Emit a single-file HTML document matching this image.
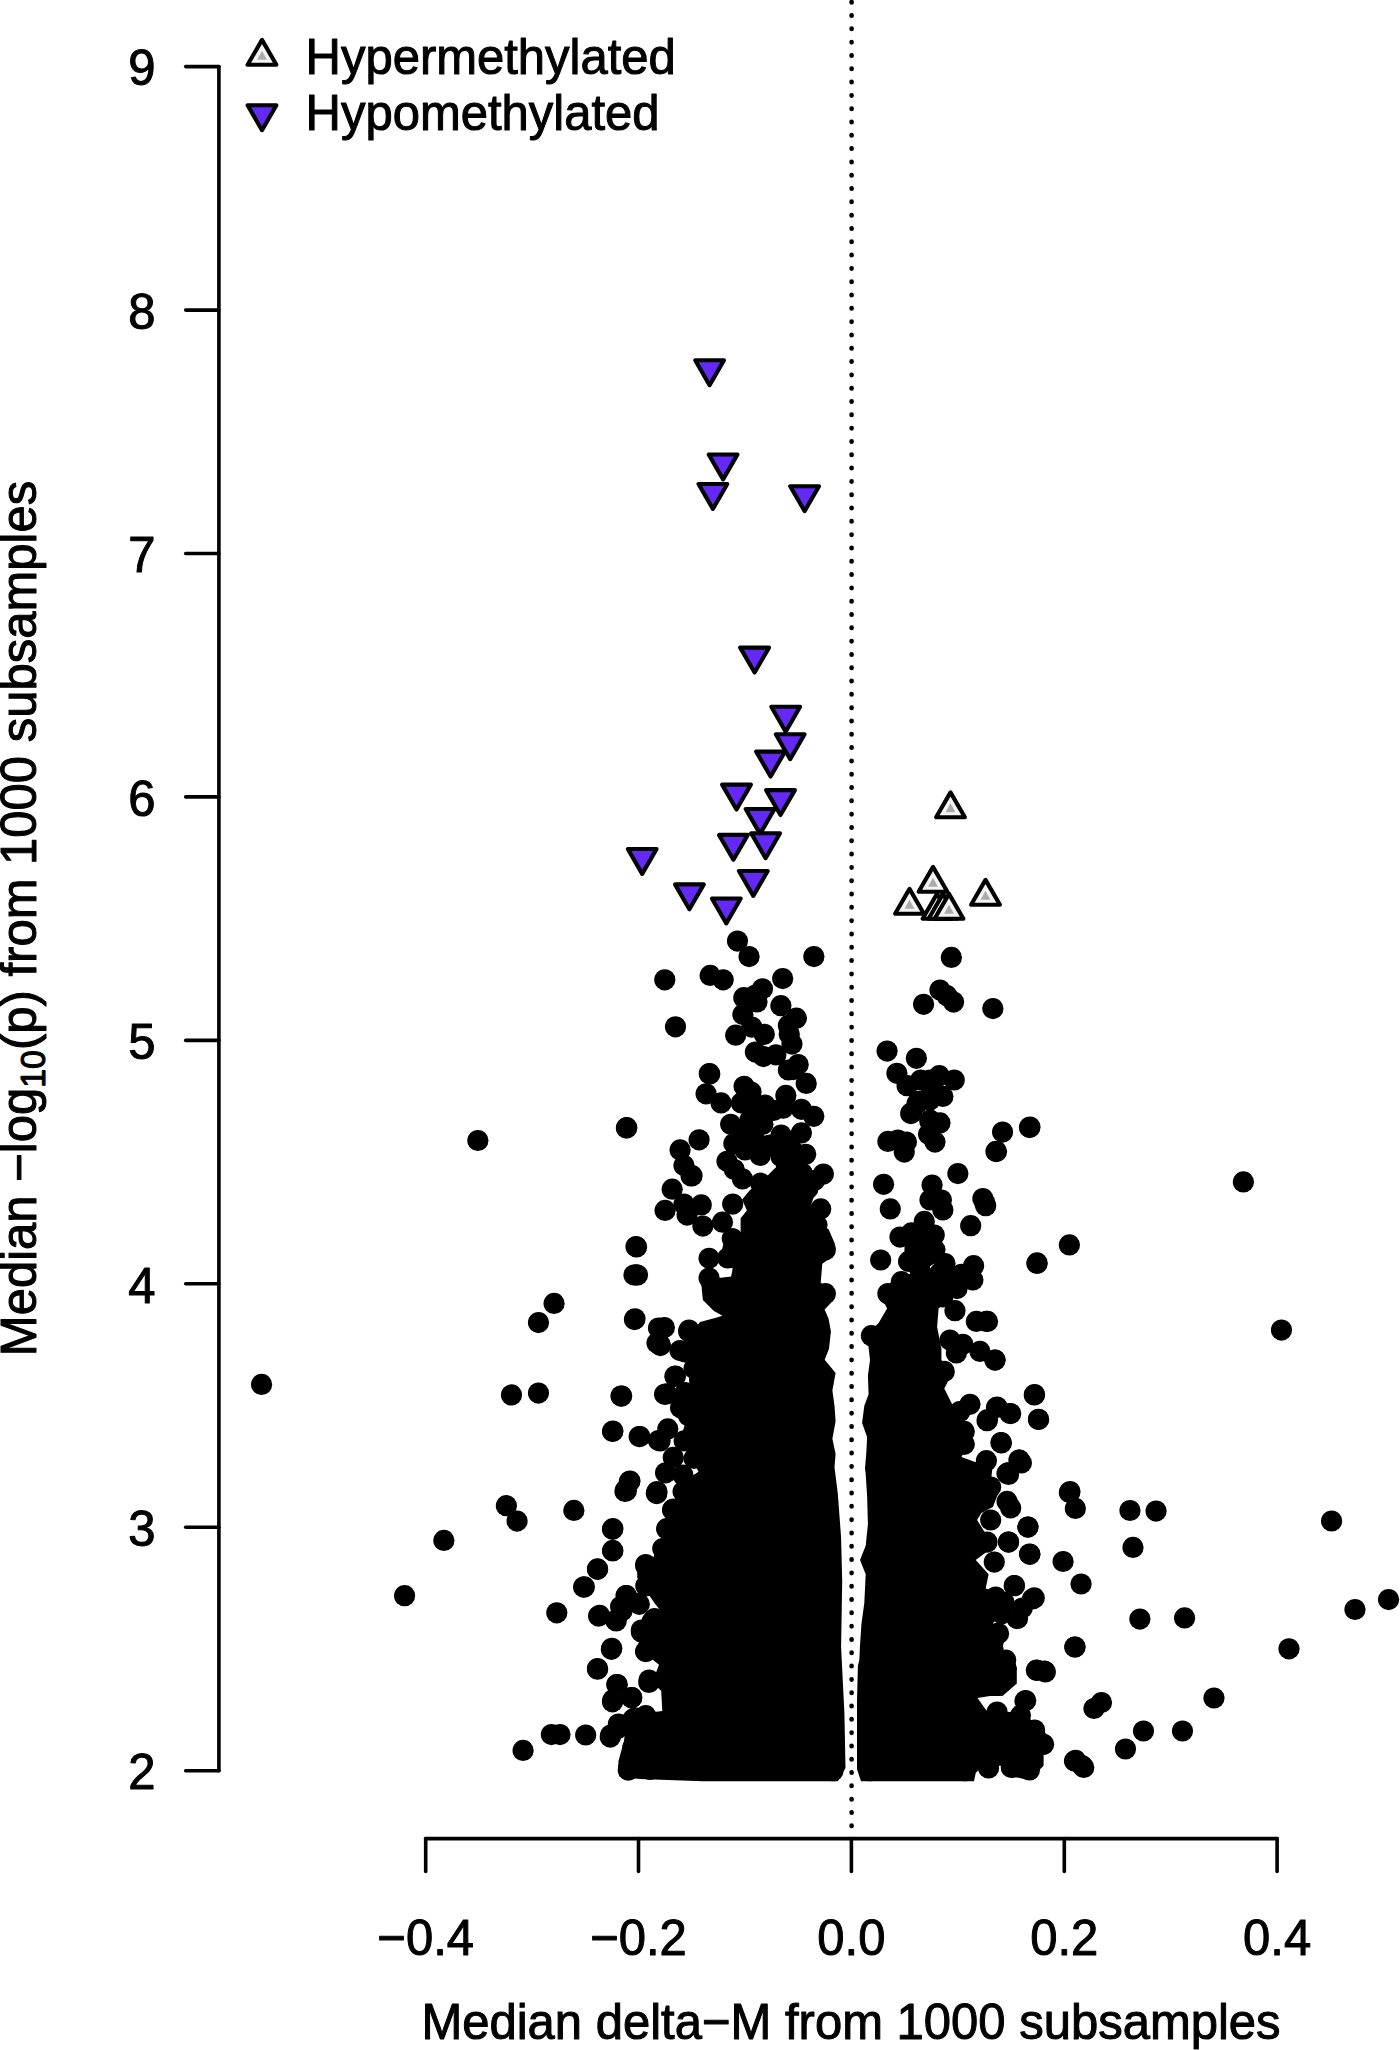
<!DOCTYPE html><html><head><meta charset="utf-8"><style>html,body{margin:0;padding:0;background:#fff;}svg{display:block}</style></head><body>
<svg width="1400" height="2050" viewBox="0 0 1400 2050">
<rect width="1400" height="2050" fill="#fff"/>
<line x1="851.6" y1="2.0" x2="851.6" y2="1826" stroke="#000" stroke-width="4.6" stroke-linecap="round" stroke-dasharray="0.4 12.911"/>
<g stroke="#000" stroke-width="3.6" stroke-linecap="round" fill="none">
<line x1="218.9" y1="66.6" x2="218.9" y2="1770.7"/>
<line x1="185.7" y1="1770.7" x2="218.9" y2="1770.7"/>
<line x1="185.7" y1="1527.3" x2="218.9" y2="1527.3"/>
<line x1="185.7" y1="1283.8" x2="218.9" y2="1283.8"/>
<line x1="185.7" y1="1040.4" x2="218.9" y2="1040.4"/>
<line x1="185.7" y1="796.9" x2="218.9" y2="796.9"/>
<line x1="185.7" y1="553.5" x2="218.9" y2="553.5"/>
<line x1="185.7" y1="310.1" x2="218.9" y2="310.1"/>
<line x1="185.7" y1="66.6" x2="218.9" y2="66.6"/>
<line x1="425.7" y1="1838.6" x2="1277.1" y2="1838.6"/>
<line x1="425.7" y1="1838.6" x2="425.7" y2="1871.4"/>
<line x1="638.5" y1="1838.6" x2="638.5" y2="1871.4"/>
<line x1="851.4" y1="1838.6" x2="851.4" y2="1871.4"/>
<line x1="1064.3" y1="1838.6" x2="1064.3" y2="1871.4"/>
<line x1="1277.1" y1="1838.6" x2="1277.1" y2="1871.4"/>
</g>
<g font-family="Liberation Sans, sans-serif" font-size="49" fill="#000" stroke="#000" stroke-width="1.0" stroke-linejoin="round">
<text transform="translate(155.5,1789.4) scale(1,1.035)" text-anchor="end">2</text>
<text transform="translate(155.5,1546.0) scale(1,1.035)" text-anchor="end">3</text>
<text transform="translate(155.5,1302.5) scale(1,1.035)" text-anchor="end">4</text>
<text transform="translate(155.5,1059.1) scale(1,1.035)" text-anchor="end">5</text>
<text transform="translate(155.5,815.6) scale(1,1.035)" text-anchor="end">6</text>
<text transform="translate(155.5,572.2) scale(1,1.035)" text-anchor="end">7</text>
<text transform="translate(155.5,328.8) scale(1,1.035)" text-anchor="end">8</text>
<text transform="translate(155.5,85.3) scale(1,1.035)" text-anchor="end">9</text>
<text transform="translate(425.7,1954.5) scale(1,1.035)" text-anchor="middle">−0.4</text>
<text transform="translate(638.5,1954.5) scale(1,1.035)" text-anchor="middle">−0.2</text>
<text transform="translate(851.4,1954.5) scale(1,1.035)" text-anchor="middle">0.0</text>
<text transform="translate(1064.3,1954.5) scale(1,1.035)" text-anchor="middle">0.2</text>
<text transform="translate(1277.1,1954.5) scale(1,1.035)" text-anchor="middle">0.4</text>
<text transform="translate(851.0,2039.4) scale(1,1.035)" text-anchor="middle">Median delta−M from 1000 subsamples</text>
<text transform="translate(35.7,918.5) rotate(-90) scale(1,1.035)" text-anchor="middle">Median −log<tspan font-size="34" dy="9">10</tspan><tspan dy="-9">(p) from 1000 subsamples</tspan></text>
<text transform="translate(305.5,73.8) scale(1,1.035)" text-anchor="start">Hypermethylated</text>
<text transform="translate(305.5,129.8) scale(1,1.035)" text-anchor="start">Hypomethylated</text>
</g>
<g fill="#000">
<path d="M817.6,1186.9 L811.3,1204.1 L806.6,1216.7 L828.6,1229.3 L834.8,1243.4 L833.3,1256 L822.3,1263.8 L820.7,1282.7 L834,1292.1 L830.9,1303.1 L824.6,1309.4 L828.6,1318.8 L830.9,1331.4 L829,1348.8 L824.7,1359.7 L835.6,1372.9 L832.4,1390.5 L834.5,1405.8 L835.6,1421.2 L832.4,1438.7 L835.6,1454.1 L834.5,1467.3 L837.8,1493.6 L841.1,1537.5 L842.2,1581.4 L841.1,1647.2 L844.4,1713 L845.5,1767.9 L838,1781.3 L702.9,1781.3 L640,1779 L619.5,1776.7 L618.4,1761.3 L623.9,1741.6 L627.2,1717.4 L645.8,1713 L662.3,1710.9 L661.2,1691.1 L652.4,1682.3 L659,1664.8 L648,1656 L637,1647.2 L645.8,1625.3 L663.4,1614.3 L654.6,1603.3 L637,1577 L652.4,1559.4 L661.2,1537.5 L672.2,1517.7 L676.6,1493.6 L685.3,1480.4 L698.5,1471.7 L689.7,1454.1 L681,1436.6 L685.3,1423.4 L700,1410 L690,1395 L697,1380 L690,1365 L685,1350 L690,1335 L700,1322 L715,1318 L722.5,1315.7 L713.9,1311 L702.9,1300 L701.3,1284.3 L704.4,1271.7 L718.6,1278 L731.1,1276.4 L732.7,1268.6 L723.3,1263.8 L721.7,1251.3 L724.9,1237.1 L734.3,1230.8 L740.6,1232.4 L740.6,1218.3 L746.9,1210.4 L742.1,1199.4 L750,1190 L765.7,1177.4 L775.1,1168 L797.1,1164.9 L809.7,1168 Z"/>
<path d="M900,1274 L930,1274 L938.6,1280 L957,1288.6 L950,1298.6 L938.6,1308.6 L937.1,1327.1 L941.4,1348.6 L941.4,1360 L952.9,1371.4 L944.3,1388.6 L952.9,1405.7 L961.4,1421.4 L972.9,1437.1 L961.4,1457.1 L975,1462 L992.9,1464.3 L991.4,1477 L1000,1488.6 L992.9,1507 L981.4,1512.9 L977.1,1520 L984.3,1531.4 L995.7,1540 L987.1,1551.4 L975.7,1560 L988.6,1574.3 L985.7,1588.6 L1002.9,1594.3 L998.6,1610 L992.9,1624.3 L1007.1,1631.4 L1002.9,1645.7 L1004.3,1660 L1016.8,1667.5 L1016.8,1683.6 L1002.5,1696 L990,1696 L977.5,1697.9 L986.4,1710.4 L1009.6,1712.1 L1020,1712 L1034,1722 L1043.6,1730 L1052.5,1744.3 L1043.6,1755 L1043.6,1765.7 L1029.3,1780 L1011.4,1776.4 L1000.7,1765.7 L982.9,1765.7 L975.7,1772.9 L974,1781.3 L861,1781.3 L857,1769.3 L857,1737.1 L857,1701.4 L857.9,1665.7 L859.3,1660 L860,1645.7 L861.4,1624.3 L864.3,1602.9 L865.7,1574.3 L860,1560 L865.7,1545.7 L867.9,1524.3 L867.1,1495.7 L865.7,1474.3 L865,1468.6 L866.4,1451.4 L867.1,1437.1 L862.1,1422.9 L864.3,1405.7 L868.6,1394.3 L867.9,1375.7 L870,1360 L867.1,1334.3 L878.6,1322.9 L887.1,1308.6 L880,1294.3 L892.9,1280 Z"/>
<circle cx="737.5" cy="941.1" r="10.6"/>
<circle cx="749.1" cy="956.6" r="10.6"/>
<circle cx="813.9" cy="956.6" r="10.6"/>
<circle cx="664.8" cy="979.8" r="10.6"/>
<circle cx="710.2" cy="975.4" r="10.6"/>
<circle cx="723.2" cy="979.8" r="10.6"/>
<circle cx="782.7" cy="978.6" r="10.6"/>
<circle cx="762.5" cy="988.8" r="10.6"/>
<circle cx="743.8" cy="997.7" r="10.6"/>
<circle cx="755.4" cy="995" r="10.6"/>
<circle cx="757" cy="1002" r="10.6"/>
<circle cx="780.9" cy="1005.7" r="10.6"/>
<circle cx="742.9" cy="1014.6" r="10.6"/>
<circle cx="796.4" cy="1018.2" r="10.6"/>
<circle cx="675.5" cy="1026.8" r="10.6"/>
<circle cx="788.4" cy="1025.4" r="10.6"/>
<circle cx="764.3" cy="1034.3" r="10.6"/>
<circle cx="735.7" cy="1035.2" r="10.6"/>
<circle cx="789.3" cy="1034.3" r="10.6"/>
<circle cx="792" cy="1044.1" r="10.6"/>
<circle cx="755.4" cy="1052.1" r="10.6"/>
<circle cx="763.4" cy="1056.6" r="10.6"/>
<circle cx="775.9" cy="1054.8" r="10.6"/>
<circle cx="751.8" cy="1027.1" r="10.6"/>
<circle cx="798.2" cy="1064.6" r="10.6"/>
<circle cx="788.4" cy="1070" r="10.6"/>
<circle cx="806.25" cy="1083.4" r="10.6"/>
<circle cx="709.3" cy="1073.6" r="10.6"/>
<circle cx="709.8" cy="1073.9" r="10.6"/>
<circle cx="706.1" cy="1093.8" r="10.6"/>
<circle cx="721.1" cy="1102.9" r="10.6"/>
<circle cx="744.1" cy="1086.3" r="10.6"/>
<circle cx="751.1" cy="1092.1" r="10.6"/>
<circle cx="741.4" cy="1102.9" r="10.6"/>
<circle cx="756.4" cy="1105" r="10.6"/>
<circle cx="765" cy="1105" r="10.6"/>
<circle cx="773.6" cy="1110.4" r="10.6"/>
<circle cx="785.9" cy="1095.4" r="10.6"/>
<circle cx="783.2" cy="1108.2" r="10.6"/>
<circle cx="801.4" cy="1109.3" r="10.6"/>
<circle cx="813.8" cy="1116.3" r="10.6"/>
<circle cx="793.4" cy="1069.6" r="10.6"/>
<circle cx="730.7" cy="1124.3" r="10.6"/>
<circle cx="750" cy="1120" r="10.6"/>
<circle cx="762.9" cy="1124.3" r="10.6"/>
<circle cx="733.9" cy="1143.6" r="10.6"/>
<circle cx="745" cy="1135" r="10.6"/>
<circle cx="755" cy="1140" r="10.6"/>
<circle cx="745" cy="1150" r="10.6"/>
<circle cx="727" cy="1161.3" r="10.6"/>
<circle cx="742.5" cy="1178.9" r="10.6"/>
<circle cx="760.2" cy="1155.4" r="10.6"/>
<circle cx="781.1" cy="1135" r="10.6"/>
<circle cx="801.4" cy="1132.9" r="10.6"/>
<circle cx="805.7" cy="1154.3" r="10.6"/>
<circle cx="789.6" cy="1145.7" r="10.6"/>
<circle cx="823.4" cy="1174.1" r="10.6"/>
<circle cx="699.1" cy="1139.8" r="10.6"/>
<circle cx="692.1" cy="1175.7" r="10.6"/>
<circle cx="760.7" cy="1183.2" r="10.6"/>
<circle cx="786.4" cy="1167.1" r="10.6"/>
<circle cx="802.5" cy="1173.6" r="10.6"/>
<circle cx="807.9" cy="1188.6" r="10.6"/>
<circle cx="770" cy="1145" r="10.6"/>
<circle cx="680.1" cy="1149.9" r="10.6"/>
<circle cx="684" cy="1165.6" r="10.6"/>
<circle cx="691.1" cy="1175.9" r="10.6"/>
<circle cx="672.2" cy="1189.2" r="10.6"/>
<circle cx="665.1" cy="1210.4" r="10.6"/>
<circle cx="684" cy="1204.1" r="10.6"/>
<circle cx="687.1" cy="1215.1" r="10.6"/>
<circle cx="701.3" cy="1204.9" r="10.6"/>
<circle cx="702.9" cy="1226.1" r="10.6"/>
<circle cx="722.5" cy="1222.2" r="10.6"/>
<circle cx="732.7" cy="1204.1" r="10.6"/>
<circle cx="820.7" cy="1208.9" r="10.6"/>
<circle cx="825.4" cy="1249.7" r="10.6"/>
<circle cx="825.4" cy="1293.7" r="10.6"/>
<circle cx="709.1" cy="1258.3" r="10.6"/>
<circle cx="709.1" cy="1278" r="10.6"/>
<circle cx="664.4" cy="1327.5" r="10.6"/>
<circle cx="660.4" cy="1345.6" r="10.6"/>
<circle cx="688.7" cy="1331.4" r="10.6"/>
<circle cx="687.1" cy="1351.8" r="10.6"/>
<circle cx="636" cy="1246.6" r="10.6"/>
<circle cx="636" cy="1274.8" r="10.6"/>
<circle cx="635" cy="1318.8" r="10.6"/>
<circle cx="626.8" cy="1127.7" r="10.6"/>
<circle cx="660.1" cy="1344.4" r="10.6"/>
<circle cx="685.3" cy="1352" r="10.6"/>
<circle cx="621.7" cy="1396" r="10.6"/>
<circle cx="675.5" cy="1376.2" r="10.6"/>
<circle cx="666.7" cy="1393.8" r="10.6"/>
<circle cx="685.3" cy="1392.7" r="10.6"/>
<circle cx="706.2" cy="1386.1" r="10.6"/>
<circle cx="612.9" cy="1431.1" r="10.6"/>
<circle cx="639.2" cy="1436.6" r="10.6"/>
<circle cx="667.8" cy="1428.9" r="10.6"/>
<circle cx="660.1" cy="1440.9" r="10.6"/>
<circle cx="684.2" cy="1440.9" r="10.6"/>
<circle cx="673.3" cy="1457.4" r="10.6"/>
<circle cx="694.1" cy="1458.5" r="10.6"/>
<circle cx="665.6" cy="1472.8" r="10.6"/>
<circle cx="629.4" cy="1481.5" r="10.6"/>
<circle cx="625" cy="1491.4" r="10.6"/>
<circle cx="656.8" cy="1493.6" r="10.6"/>
<circle cx="683.1" cy="1491.4" r="10.6"/>
<circle cx="673.3" cy="1509" r="10.6"/>
<circle cx="666.7" cy="1528.7" r="10.6"/>
<circle cx="612.9" cy="1528.7" r="10.6"/>
<circle cx="612.9" cy="1550.7" r="10.6"/>
<circle cx="597.6" cy="1569.3" r="10.6"/>
<circle cx="664.5" cy="1549.6" r="10.6"/>
<circle cx="645.8" cy="1566" r="10.6"/>
<circle cx="584.4" cy="1586.9" r="10.6"/>
<circle cx="626.1" cy="1595.6" r="10.6"/>
<circle cx="645.8" cy="1585.8" r="10.6"/>
<circle cx="620.6" cy="1606.6" r="10.6"/>
<circle cx="599.7" cy="1615.4" r="10.6"/>
<circle cx="616.2" cy="1620.9" r="10.6"/>
<circle cx="638.2" cy="1603.3" r="10.6"/>
<circle cx="654.6" cy="1618.7" r="10.6"/>
<circle cx="641.4" cy="1631.9" r="10.6"/>
<circle cx="611.8" cy="1648.3" r="10.6"/>
<circle cx="645.8" cy="1651.6" r="10.6"/>
<circle cx="597.6" cy="1669.2" r="10.6"/>
<circle cx="649.1" cy="1680.1" r="10.6"/>
<circle cx="617.3" cy="1684.5" r="10.6"/>
<circle cx="631.6" cy="1697.7" r="10.6"/>
<circle cx="612.9" cy="1699.9" r="10.6"/>
<circle cx="610.7" cy="1735" r="10.6"/>
<circle cx="618.4" cy="1724" r="10.6"/>
<circle cx="632.7" cy="1719.6" r="10.6"/>
<circle cx="645.8" cy="1717.4" r="10.6"/>
<circle cx="628.3" cy="1770.1" r="10.6"/>
<circle cx="781" cy="1156.4" r="10.6"/>
<circle cx="792.9" cy="1151" r="10.6"/>
<circle cx="797" cy="1166" r="10.6"/>
<circle cx="951.4" cy="957.4" r="10.6"/>
<circle cx="940" cy="990" r="10.6"/>
<circle cx="947" cy="995.7" r="10.6"/>
<circle cx="953.6" cy="1002.1" r="10.6"/>
<circle cx="923.6" cy="1004.3" r="10.6"/>
<circle cx="992.9" cy="1008.6" r="10.6"/>
<circle cx="887.1" cy="1051.1" r="10.6"/>
<circle cx="916.4" cy="1058.3" r="10.6"/>
<circle cx="896.9" cy="1073.3" r="10.6"/>
<circle cx="907.1" cy="1085.7" r="10.6"/>
<circle cx="920.7" cy="1080" r="10.6"/>
<circle cx="939.3" cy="1075.7" r="10.6"/>
<circle cx="954.3" cy="1080" r="10.6"/>
<circle cx="931.4" cy="1091.4" r="10.6"/>
<circle cx="942.9" cy="1096.4" r="10.6"/>
<circle cx="917.1" cy="1103.6" r="10.6"/>
<circle cx="910.7" cy="1113.6" r="10.6"/>
<circle cx="930" cy="1121.4" r="10.6"/>
<circle cx="940" cy="1122.9" r="10.6"/>
<circle cx="1030" cy="1127.1" r="10.6"/>
<circle cx="930" cy="1080" r="10.6"/>
<circle cx="930" cy="1100" r="10.6"/>
<circle cx="911.4" cy="1112.9" r="10.6"/>
<circle cx="918.6" cy="1101.4" r="10.6"/>
<circle cx="930" cy="1120" r="10.6"/>
<circle cx="928.6" cy="1134.3" r="10.6"/>
<circle cx="935" cy="1142.1" r="10.6"/>
<circle cx="887.9" cy="1141.4" r="10.6"/>
<circle cx="897.9" cy="1140" r="10.6"/>
<circle cx="906.4" cy="1142.1" r="10.6"/>
<circle cx="904.3" cy="1152.1" r="10.6"/>
<circle cx="1002.6" cy="1132.1" r="10.6"/>
<circle cx="996" cy="1151.4" r="10.6"/>
<circle cx="957.9" cy="1173.6" r="10.6"/>
<circle cx="883.6" cy="1184.3" r="10.6"/>
<circle cx="932.1" cy="1185" r="10.6"/>
<circle cx="890.3" cy="1208.9" r="10.6"/>
<circle cx="930" cy="1200" r="10.6"/>
<circle cx="941.4" cy="1200" r="10.6"/>
<circle cx="942.9" cy="1210" r="10.6"/>
<circle cx="982.9" cy="1198.6" r="10.6"/>
<circle cx="985.7" cy="1205.7" r="10.6"/>
<circle cx="970.7" cy="1225.7" r="10.6"/>
<circle cx="924.3" cy="1221.4" r="10.6"/>
<circle cx="934.3" cy="1235" r="10.6"/>
<circle cx="900" cy="1237.1" r="10.6"/>
<circle cx="911.4" cy="1232.9" r="10.6"/>
<circle cx="880.7" cy="1260" r="10.6"/>
<circle cx="908.6" cy="1261.4" r="10.6"/>
<circle cx="927.1" cy="1255.7" r="10.6"/>
<circle cx="945" cy="1263.6" r="10.6"/>
<circle cx="940" cy="1272.9" r="10.6"/>
<circle cx="973.6" cy="1265.7" r="10.6"/>
<circle cx="961.4" cy="1274.3" r="10.6"/>
<circle cx="972.9" cy="1280" r="10.6"/>
<circle cx="1037.1" cy="1262.9" r="10.6"/>
<circle cx="902.1" cy="1282.9" r="10.6"/>
<circle cx="888.6" cy="1294.3" r="10.6"/>
<circle cx="921.4" cy="1285.7" r="10.6"/>
<circle cx="957.1" cy="1288.6" r="10.6"/>
<circle cx="928.6" cy="1297" r="10.6"/>
<circle cx="942.9" cy="1297" r="10.6"/>
<circle cx="915" cy="1250" r="10.6"/>
<circle cx="920" cy="1270" r="10.6"/>
<circle cx="935" cy="1250" r="10.6"/>
<circle cx="950" cy="1280" r="10.6"/>
<circle cx="901.4" cy="1281.7" r="10.6"/>
<circle cx="915" cy="1245" r="10.6"/>
<circle cx="887.9" cy="1293.6" r="10.6"/>
<circle cx="955" cy="1310.7" r="10.6"/>
<circle cx="976.4" cy="1321.4" r="10.6"/>
<circle cx="986.4" cy="1321.4" r="10.6"/>
<circle cx="950" cy="1340" r="10.6"/>
<circle cx="962.9" cy="1344.3" r="10.6"/>
<circle cx="956.4" cy="1352.9" r="10.6"/>
<circle cx="980" cy="1351.4" r="10.6"/>
<circle cx="995" cy="1360" r="10.6"/>
<circle cx="944.3" cy="1371.4" r="10.6"/>
<circle cx="970" cy="1404.3" r="10.6"/>
<circle cx="997.1" cy="1407.1" r="10.6"/>
<circle cx="1010.7" cy="1413.6" r="10.6"/>
<circle cx="987.1" cy="1420.7" r="10.6"/>
<circle cx="1034.3" cy="1395" r="10.6"/>
<circle cx="1038.6" cy="1419.3" r="10.6"/>
<circle cx="964.3" cy="1431.4" r="10.6"/>
<circle cx="964.3" cy="1444.3" r="10.6"/>
<circle cx="1001.4" cy="1442.9" r="10.6"/>
<circle cx="986.4" cy="1460.7" r="10.6"/>
<circle cx="1019.3" cy="1460" r="10.6"/>
<circle cx="1008.6" cy="1472.9" r="10.6"/>
<circle cx="975.7" cy="1472.9" r="10.6"/>
<circle cx="871.4" cy="1335.7" r="10.6"/>
<circle cx="1021.4" cy="1462.9" r="10.6"/>
<circle cx="1007.9" cy="1472.9" r="10.6"/>
<circle cx="990.7" cy="1487.1" r="10.6"/>
<circle cx="1007.1" cy="1501.4" r="10.6"/>
<circle cx="1010.7" cy="1507.9" r="10.6"/>
<circle cx="990.7" cy="1520" r="10.6"/>
<circle cx="1027.9" cy="1527.1" r="10.6"/>
<circle cx="987.1" cy="1542.1" r="10.6"/>
<circle cx="1008.6" cy="1542.1" r="10.6"/>
<circle cx="1030" cy="1554.3" r="10.6"/>
<circle cx="994.3" cy="1562.1" r="10.6"/>
<circle cx="1014.3" cy="1585.7" r="10.6"/>
<circle cx="1034.3" cy="1597.9" r="10.6"/>
<circle cx="995.7" cy="1597.1" r="10.6"/>
<circle cx="1017.1" cy="1618.6" r="10.6"/>
<circle cx="998.6" cy="1633.6" r="10.6"/>
<circle cx="992.9" cy="1648.6" r="10.6"/>
<circle cx="1005.7" cy="1660" r="10.6"/>
<circle cx="1074.8" cy="1647" r="10.6"/>
<circle cx="1036.4" cy="1670.2" r="10.6"/>
<circle cx="1045.4" cy="1672" r="10.6"/>
<circle cx="1025.7" cy="1700.5" r="10.6"/>
<circle cx="997.1" cy="1712.1" r="10.6"/>
<circle cx="1020.4" cy="1715.7" r="10.6"/>
<circle cx="1034.6" cy="1730" r="10.6"/>
<circle cx="1043.6" cy="1744.3" r="10.6"/>
<circle cx="1031.1" cy="1762.1" r="10.6"/>
<circle cx="1011.4" cy="1767.5" r="10.6"/>
<circle cx="1075.7" cy="1760.4" r="10.6"/>
<circle cx="1083.75" cy="1767.5" r="10.6"/>
<circle cx="995.4" cy="1683.6" r="10.6"/>
<circle cx="1006.1" cy="1667.5" r="10.6"/>
<circle cx="995.4" cy="1635.4" r="10.6"/>
<circle cx="1029.5" cy="1127.6" r="10.6"/>
<circle cx="996.5" cy="1151.6" r="10.6"/>
<circle cx="1243.4" cy="1181.9" r="10.6"/>
<circle cx="984.5" cy="1202" r="10.6"/>
<circle cx="1069.4" cy="1244.9" r="10.6"/>
<circle cx="1037" cy="1263.5" r="10.6"/>
<circle cx="1281.5" cy="1330.1" r="10.6"/>
<circle cx="987.5" cy="1321.4" r="10.6"/>
<circle cx="995" cy="1360.1" r="10.6"/>
<circle cx="1034.6" cy="1394.6" r="10.6"/>
<circle cx="1038.5" cy="1419.5" r="10.6"/>
<circle cx="1010" cy="1413.5" r="10.6"/>
<circle cx="996.5" cy="1407.5" r="10.6"/>
<circle cx="987.5" cy="1419.5" r="10.6"/>
<circle cx="1001" cy="1442.6" r="10.6"/>
<circle cx="1019" cy="1460" r="10.6"/>
<circle cx="1007" cy="1473.5" r="10.6"/>
<circle cx="1070" cy="1491.5" r="10.6"/>
<circle cx="1008.5" cy="1474.5" r="10.6"/>
<circle cx="1069.4" cy="1492.5" r="10.6"/>
<circle cx="1075.4" cy="1508.4" r="10.6"/>
<circle cx="1130" cy="1510.5" r="10.6"/>
<circle cx="1156.1" cy="1511.1" r="10.6"/>
<circle cx="1331.6" cy="1521" r="10.6"/>
<circle cx="1133" cy="1547.4" r="10.6"/>
<circle cx="1028" cy="1527" r="10.6"/>
<circle cx="1008.5" cy="1542" r="10.6"/>
<circle cx="1029.5" cy="1554" r="10.6"/>
<circle cx="1063.1" cy="1561.5" r="10.6"/>
<circle cx="1081.1" cy="1584" r="10.6"/>
<circle cx="1014.5" cy="1585.5" r="10.6"/>
<circle cx="1032.5" cy="1599" r="10.6"/>
<circle cx="1017.5" cy="1618.5" r="10.6"/>
<circle cx="996.5" cy="1633.5" r="10.6"/>
<circle cx="1139.9" cy="1619.1" r="10.6"/>
<circle cx="1184.6" cy="1617.9" r="10.6"/>
<circle cx="1355" cy="1609.5" r="10.6"/>
<circle cx="1388.6" cy="1599.6" r="10.6"/>
<circle cx="1289" cy="1648.8" r="10.6"/>
<circle cx="1075.1" cy="1647" r="10.6"/>
<circle cx="1037" cy="1670.4" r="10.6"/>
<circle cx="1044.5" cy="1671" r="10.6"/>
<circle cx="1005.5" cy="1669.5" r="10.6"/>
<circle cx="1025" cy="1701" r="10.6"/>
<circle cx="1214" cy="1698" r="10.6"/>
<circle cx="1101.5" cy="1702.5" r="10.6"/>
<circle cx="1094" cy="1708.5" r="10.6"/>
<circle cx="1143.5" cy="1731" r="10.6"/>
<circle cx="1182.5" cy="1731" r="10.6"/>
<circle cx="1034" cy="1731" r="10.6"/>
<circle cx="1043" cy="1744.5" r="10.6"/>
<circle cx="1125.5" cy="1749" r="10.6"/>
<circle cx="1074.5" cy="1761" r="10.6"/>
<circle cx="1082" cy="1765.5" r="10.6"/>
<circle cx="1029.5" cy="1770" r="10.6"/>
<circle cx="1011.5" cy="1767" r="10.6"/>
<circle cx="477.9" cy="1140.5" r="10.6"/>
<circle cx="626.4" cy="1127.9" r="10.6"/>
<circle cx="636.6" cy="1247" r="10.6"/>
<circle cx="634" cy="1275" r="10.6"/>
<circle cx="637.5" cy="1275" r="10.6"/>
<circle cx="554.1" cy="1303.4" r="10.6"/>
<circle cx="538.5" cy="1322.6" r="10.6"/>
<circle cx="634.5" cy="1319.6" r="10.6"/>
<circle cx="658.5" cy="1328" r="10.6"/>
<circle cx="657" cy="1343" r="10.6"/>
<circle cx="261.6" cy="1384.4" r="10.6"/>
<circle cx="511.5" cy="1394.9" r="10.6"/>
<circle cx="538.5" cy="1393.1" r="10.6"/>
<circle cx="621" cy="1396.1" r="10.6"/>
<circle cx="612.6" cy="1431.5" r="10.6"/>
<circle cx="639.9" cy="1436.6" r="10.6"/>
<circle cx="658.5" cy="1440.5" r="10.6"/>
<circle cx="630" cy="1481" r="10.6"/>
<circle cx="625.5" cy="1490" r="10.6"/>
<circle cx="657" cy="1491.5" r="10.6"/>
<circle cx="506.4" cy="1505.7" r="10.6"/>
<circle cx="517.1" cy="1521.1" r="10.6"/>
<circle cx="573.9" cy="1510.4" r="10.6"/>
<circle cx="443.9" cy="1540.4" r="10.6"/>
<circle cx="404.6" cy="1595.7" r="10.6"/>
<circle cx="556.8" cy="1612.8" r="10.6"/>
<circle cx="612.5" cy="1529.3" r="10.6"/>
<circle cx="612.5" cy="1550.7" r="10.6"/>
<circle cx="597.5" cy="1568.9" r="10.6"/>
<circle cx="583.6" cy="1587.1" r="10.6"/>
<circle cx="598.6" cy="1616.1" r="10.6"/>
<circle cx="615.7" cy="1620.3" r="10.6"/>
<circle cx="626.4" cy="1595.7" r="10.6"/>
<circle cx="622.1" cy="1610.7" r="10.6"/>
<circle cx="639.3" cy="1604.3" r="10.6"/>
<circle cx="611.4" cy="1649.3" r="10.6"/>
<circle cx="597.5" cy="1668.6" r="10.6"/>
<circle cx="616.8" cy="1684.6" r="10.6"/>
<circle cx="631.8" cy="1697.5" r="10.6"/>
<circle cx="612.5" cy="1701.8" r="10.6"/>
<circle cx="648.9" cy="1682.5" r="10.6"/>
<circle cx="645.7" cy="1564.6" r="10.6"/>
<circle cx="626.4" cy="1490.7" r="10.6"/>
<circle cx="656.4" cy="1493.3" r="10.6"/>
<circle cx="672.5" cy="1510" r="10.6"/>
<circle cx="667.1" cy="1529.3" r="10.6"/>
<circle cx="662.8" cy="1548.6" r="10.6"/>
<circle cx="647.8" cy="1574.3" r="10.6"/>
<circle cx="652.1" cy="1621.4" r="10.6"/>
<circle cx="641.4" cy="1630" r="10.6"/>
<circle cx="645.7" cy="1651.4" r="10.6"/>
<circle cx="523.1" cy="1750.4" r="10.6"/>
<circle cx="551.4" cy="1734.6" r="10.6"/>
<circle cx="560" cy="1734.6" r="10.6"/>
<circle cx="585.7" cy="1735" r="10.6"/>
<circle cx="610.3" cy="1737.1" r="10.6"/>
<circle cx="617.8" cy="1728.6" r="10.6"/>
<circle cx="635" cy="1717.8" r="10.6"/>
<circle cx="645.7" cy="1715.7" r="10.6"/>
<circle cx="628.6" cy="1768.2" r="10.6"/>
<circle cx="650" cy="1769.3" r="10.6"/>
<circle cx="669.3" cy="1769.3" r="10.6"/>
<circle cx="632.8" cy="1747.8" r="10.6"/>
<circle cx="628.8" cy="1767" r="10.6"/>
<circle cx="650" cy="1765.5" r="10.6"/>
<circle cx="670.6" cy="1764.5" r="10.6"/>
<circle cx="691" cy="1764" r="10.6"/>
<circle cx="833" cy="1770.7" r="10.6"/>
<circle cx="870" cy="1770.7" r="10.6"/>
<circle cx="965" cy="1770.7" r="10.6"/>
<circle cx="694.1" cy="1368.5" r="10.6"/>
<circle cx="699.6" cy="1379.5" r="10.6"/>
<circle cx="923.6" cy="1237.1" r="10.6"/>
<circle cx="734.3" cy="1169.6" r="10.6"/>
<circle cx="814.4" cy="1180.6" r="10.6"/>
<circle cx="959.7" cy="1411.7" r="10.6"/>
<circle cx="815" cy="1215" r="10.6"/>
<circle cx="817" cy="1225" r="10.6"/>
<circle cx="689" cy="1330" r="10.6"/>
<circle cx="680" cy="1350.6" r="10.6"/>
<circle cx="674.9" cy="1376.3" r="10.6"/>
<circle cx="664.6" cy="1394.3" r="10.6"/>
<circle cx="680.6" cy="1407.7" r="10.6"/>
<circle cx="689.7" cy="1402" r="10.6"/>
<circle cx="700" cy="1404.3" r="10.6"/>
<circle cx="688.6" cy="1415.7" r="10.6"/>
<circle cx="682.9" cy="1475.1" r="10.6"/>
<circle cx="732.3" cy="1238.6" r="10.6"/>
<circle cx="727.7" cy="1258" r="10.6"/>
<circle cx="988.6" cy="1768" r="10.6"/>
<circle cx="1022.3" cy="1608" r="10.6"/>
<circle cx="1004" cy="1602.3" r="10.6"/>
<circle cx="1001.7" cy="1613.7" r="10.6"/>
</g>
<path d="M950.5,792.4 L936.1,817.3 L964.9,817.3 Z" fill="#f4f4f4" stroke="#000" stroke-width="4.1" stroke-linejoin="round"/><path d="M950.50,803.36 L945.60,812.32 L955.40,812.32 Z" fill="#ababab"/>
<path d="M933,866.9 L918.6,891.8 L947.4,891.8 Z" fill="#f4f4f4" stroke="#000" stroke-width="4.1" stroke-linejoin="round"/><path d="M933.00,877.86 L928.10,886.82 L937.90,886.82 Z" fill="#ababab"/>
<path d="M909.5,888.9 L895.1,913.8 L923.9,913.8 Z" fill="#f4f4f4" stroke="#000" stroke-width="4.1" stroke-linejoin="round"/><path d="M909.50,899.86 L904.60,908.82 L914.40,908.82 Z" fill="#ababab"/>
<path d="M985.5,879.9 L971.1,904.8 L999.9,904.8 Z" fill="#f4f4f4" stroke="#000" stroke-width="4.1" stroke-linejoin="round"/><path d="M985.50,890.86 L980.60,899.82 L990.40,899.82 Z" fill="#ababab"/>
<path d="M937,893.9 L922.6,918.8 L951.4,918.8 Z" fill="#f4f4f4" stroke="#000" stroke-width="4.1" stroke-linejoin="round"/><path d="M937.00,904.86 L932.10,913.82 L941.90,913.82 Z" fill="#ababab"/>
<path d="M943,893.9 L928.6,918.8 L957.4,918.8 Z" fill="#f4f4f4" stroke="#000" stroke-width="4.1" stroke-linejoin="round"/><path d="M943.00,904.86 L938.10,913.82 L947.90,913.82 Z" fill="#ababab"/>
<path d="M949,893.9 L934.6,918.8 L963.4,918.8 Z" fill="#f4f4f4" stroke="#000" stroke-width="4.1" stroke-linejoin="round"/><path d="M949.00,904.86 L944.10,913.82 L953.90,913.82 Z" fill="#ababab"/>
<path d="M709.6,385.2 L695.2,360.3 L724,360.3 Z" fill="#6429f4" stroke="#000" stroke-width="4.1" stroke-linejoin="round"/>
<path d="M723.1,479.4 L708.7,454.5 L737.5,454.5 Z" fill="#6429f4" stroke="#000" stroke-width="4.1" stroke-linejoin="round"/>
<path d="M712.9,508.9 L698.5,484 L727.3,484 Z" fill="#6429f4" stroke="#000" stroke-width="4.1" stroke-linejoin="round"/>
<path d="M804.6,511.1 L790.2,486.2 L819,486.2 Z" fill="#6429f4" stroke="#000" stroke-width="4.1" stroke-linejoin="round"/>
<path d="M754.6,672.5 L740.2,647.6 L769,647.6 Z" fill="#6429f4" stroke="#000" stroke-width="4.1" stroke-linejoin="round"/>
<path d="M785.7,731.7 L771.3,706.8 L800.1,706.8 Z" fill="#6429f4" stroke="#000" stroke-width="4.1" stroke-linejoin="round"/>
<path d="M790.2,759.2 L775.8,734.3 L804.6,734.3 Z" fill="#6429f4" stroke="#000" stroke-width="4.1" stroke-linejoin="round"/>
<path d="M770.6,776.5 L756.2,751.6 L785,751.6 Z" fill="#6429f4" stroke="#000" stroke-width="4.1" stroke-linejoin="round"/>
<path d="M736.5,809.5 L722.1,784.6 L750.9,784.6 Z" fill="#6429f4" stroke="#000" stroke-width="4.1" stroke-linejoin="round"/>
<path d="M780.5,815 L766.1,790.1 L794.9,790.1 Z" fill="#6429f4" stroke="#000" stroke-width="4.1" stroke-linejoin="round"/>
<path d="M760.1,833.9 L745.7,809 L774.5,809 Z" fill="#6429f4" stroke="#000" stroke-width="4.1" stroke-linejoin="round"/>
<path d="M765.6,858.2 L751.2,833.3 L780,833.3 Z" fill="#6429f4" stroke="#000" stroke-width="4.1" stroke-linejoin="round"/>
<path d="M733.4,859.8 L719,834.9 L747.8,834.9 Z" fill="#6429f4" stroke="#000" stroke-width="4.1" stroke-linejoin="round"/>
<path d="M642.2,873.9 L627.8,849 L656.6,849 Z" fill="#6429f4" stroke="#000" stroke-width="4.1" stroke-linejoin="round"/>
<path d="M753.3,895.9 L738.9,871 L767.7,871 Z" fill="#6429f4" stroke="#000" stroke-width="4.1" stroke-linejoin="round"/>
<path d="M689.4,909.3 L675,884.4 L703.8,884.4 Z" fill="#6429f4" stroke="#000" stroke-width="4.1" stroke-linejoin="round"/>
<path d="M726.3,923.4 L711.9,898.5 L740.7,898.5 Z" fill="#6429f4" stroke="#000" stroke-width="4.1" stroke-linejoin="round"/>
<path d="M262,39.9 L247.6,64.8 L276.4,64.8 Z" fill="#f4f4f4" stroke="#000" stroke-width="4.1" stroke-linejoin="round"/><path d="M262.00,50.86 L257.10,59.82 L266.90,59.82 Z" fill="#ababab"/>
<path d="M262,130.2 L247.6,105.3 L276.4,105.3 Z" fill="#6429f4" stroke="#000" stroke-width="4.1" stroke-linejoin="round"/>
</svg></body></html>
